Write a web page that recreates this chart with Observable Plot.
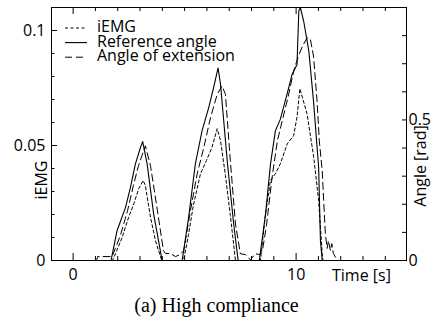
<!DOCTYPE html>
<html><head><meta charset="utf-8">
<script src="https://cdn.jsdelivr.net/npm/d3@7"></script>
<script src="https://cdn.jsdelivr.net/npm/@observablehq/plot@0.6"></script>
<style>
body{margin:0;background:#fff;}
#wrap{position:relative;width:433px;height:321px;font-family:"Open Sans";}
#legend{position:absolute;left:0;top:0;}
#caption{position:absolute;left:0;width:433px;top:295px;text-align:center;font-family:"Liberation Serif";font-size:20px;line-height:20px;color:#000;}
</style></head><body>
<div id="wrap"><div id="chart"></div><svg id="legend" width="260" height="70"></svg><div id="caption">(a) High compliance</div></div>
<script>
// ---- data (time in s) ----
const emgTime  = [0, 1.76, 1.90, 2.20, 2.49, 2.72, 2.94, 3.14, 3.24, 3.47, 3.69, 3.95, 4.0, 4.95, 5.17, 5.39, 5.71, 5.98, 6.23, 6.46, 6.61, 6.83, 7.05, 7.23, 7.28, 8.40, 8.62, 8.85, 9.07, 9.29, 9.60, 9.89, 10.04, 10.17, 10.49, 10.79, 11.01, 11.17, 11.20, 14];
const emgValue = [0, 0, 0.0029, 0.0101, 0.0188, 0.0246, 0.0312, 0.0348, 0.0326, 0.0188, 0.0087, 0.0007, 0, 0, 0.0109, 0.0239, 0.0377, 0.0435, 0.0493, 0.0573, 0.0522, 0.037, 0.0196, 0.0043, 0, 0, 0.0196, 0.0348, 0.0377, 0.042, 0.0507, 0.0543, 0.0623, 0.0747, 0.0638, 0.0449, 0.0261, 0.003, 0, 0];

const refTime  = [0, 1.70, 1.97, 2.35, 2.57, 2.79, 3.02, 3.12, 3.32, 3.61, 3.99, 4.89, 5.18, 5.48, 5.78, 6.08, 6.30, 6.50, 6.61, 6.91, 7.20, 7.40, 8.35, 8.63, 8.85, 9.07, 9.29, 9.57, 9.82, 10.04, 10.12, 10.19, 10.34, 10.57, 10.78, 11.01, 11.09, 11.17, 14];
const refAngle = [0, 0, 0.106, 0.189, 0.26, 0.343, 0.402, 0.423, 0.343, 0.166, 0, 0, 0.154, 0.343, 0.461, 0.544, 0.615, 0.685, 0.627, 0.355, 0.130, 0, 0, 0.166, 0.343, 0.461, 0.502, 0.585, 0.662, 0.697, 0.887, 0.9, 0.851, 0.745, 0.567, 0.331, 0.071, 0, 0];

const extTime  = [0, 1.05, 1.10, 1.75, 2.12, 2.44, 2.70, 2.93, 3.16, 3.24, 3.47, 3.78, 4.05, 4.14, 4.36, 4.59, 4.80, 4.96, 5.26, 5.56, 5.86, 6.16, 6.46, 6.68, 6.83, 7.05, 7.28, 7.50, 7.73, 7.95, 8.17, 8.37, 8.49, 8.67, 8.92, 9.16, 9.43, 9.65, 9.89, 10.10, 10.28, 10.49, 10.64, 10.78, 10.94, 11.04, 11.17, 11.31, 11.39, 11.45, 11.54, 11.60, 11.67, 11.85, 14];
const extAngle = [0, 0, 0.014, 0.014, 0.089, 0.177, 0.266, 0.337, 0.39, 0.408, 0.337, 0.177, 0.035, 0.025, 0.025, 0.014, 0.021, 0.035, 0.177, 0.307, 0.402, 0.508, 0.591, 0.621, 0.591, 0.355, 0.13, 0.024, 0.021, 0.003, 0.024, 0.021, 0.035, 0.124, 0.295, 0.426, 0.514, 0.585, 0.674, 0.727, 0.762, 0.792, 0.787, 0.727, 0.567, 0.426, 0.319, 0.096, 0.043, 0.071, 0.035, 0.06, 0.025, 0, 0];

const seriesNames = ["iEMG", "Reference angle", "Angle of extension"];
const leftMajor = [0, 0.05, 0.1];
const leftMajorLabels = ["0", "0.05", "0.1"];
const leftMinor = [0.01, 0.02, 0.03, 0.04, 0.06, 0.07, 0.08, 0.09];
const rightTicks = [0.1, 0.2, 0.3, 0.4, 0.5, 0.6, 0.7, 0.8];
const rightMajor = [0, 0.5];
const rightMajorLabels = ["0", "0.5"];
const xTicks = [0, 1, 2, 3, 4, 5, 6, 7, 8, 9, 10, 11, 12, 13, 14];
const xMajor = [0, 10];
const xMajorLabels = ["0", "10"];

// ---- layout ----
const W = 433, H = 290, ML = 51, MR = 27, MT = 7, MB = 30;
const xDomain = [-0.97, 14.95];
const yDomain = [0, 0.11];
const angleMax = 0.9;             // right axis top (rad)
const K = yDomain[1] / angleMax;  // rad -> left units
const pxX = (W - ML - MR) / (xDomain[1] - xDomain[0]);
const pxY = (H - MT - MB) / (yDomain[1] - yDomain[0]);

const emg = emgTime.map((t, i) => ({t, v: emgValue[i]}));
const ref = refTime.map((t, i) => ({t, v: refAngle[i] * K}));
const ext = extTime.map((t, i) => ({t, v: extAngle[i] * K}));

const styles = {
  "iEMG": {dash: "3,2.5", width: 1},
  "Reference angle": {dash: null, width: 1.1},
  "Angle of extension": {dash: "7,4", width: 1}
};

const chart = Plot.plot({
  width: W, height: H, marginLeft: ML, marginRight: MR, marginTop: MT, marginBottom: MB,
  x: {domain: xDomain, label: null},
  y: {domain: yDomain, label: null},
  style: {fontFamily: "Open Sans", fontSize: "16px", color: "#000", background: "#fff"},
  marks: [
    Plot.line(ext, {x: "t", y: "v", stroke: "#000", strokeWidth: styles["Angle of extension"].width, strokeDasharray: styles["Angle of extension"].dash, clip: true}),
    Plot.line(emg, {x: "t", y: "v", stroke: "#000", strokeWidth: styles["iEMG"].width, strokeDasharray: styles["iEMG"].dash, clip: true}),
    Plot.line(ref, {x: "t", y: "v", stroke: "#000", strokeWidth: styles["Reference angle"].width, clip: true}),
    Plot.frame({stroke: "#000", strokeWidth: 1}),
    // inward ticks, left
    Plot.ruleY(leftMajor, {y: d => d, x1: xDomain[0], x2: xDomain[0] + 6 / pxX, stroke: "#000"}),
    Plot.ruleY(leftMinor, {y: d => d, x1: xDomain[0], x2: xDomain[0] + 3.5 / pxX, stroke: "#000"}),
    // right
    Plot.ruleY(rightTicks, {y: d => d * K, x1: xDomain[1] - 4 / pxX, x2: xDomain[1], stroke: "#000"}),
    // bottom and top
    Plot.ruleX(xTicks, {x: d => d, y1: yDomain[0], y2: d => yDomain[0] + (xMajor.includes(d) ? 7 : 4) / pxY, stroke: "#000"}),
    Plot.ruleX(xTicks, {x: d => d, y1: d => yDomain[1] - (xMajor.includes(d) ? 7 : 4) / pxY, y2: yDomain[1], stroke: "#000"}),
    // labels
    Plot.axisY({anchor: "left", ticks: leftMajor, tickSize: 0, tickPadding: 6, tickFormat: d => leftMajorLabels[leftMajor.indexOf(d)], label: null}),
    Plot.axisY({anchor: "right", ticks: rightMajor.map(d => d * K), tickSize: 0, tickPadding: 2, tickFormat: (d, i) => rightMajorLabels[i], label: null}),
    Plot.axisX({anchor: "bottom", ticks: xMajor, tickSize: 0, tickPadding: 8, tickFormat: d => xMajorLabels[xMajor.indexOf(d)], label: null}),
    Plot.text(["iEMG"], {text: d => d, frameAnchor: "left", textAnchor: "middle", lineAnchor: "middle", rotate: -90, dx: -10, dy: 46, fill: "#000"}),
    Plot.text(["Angle [rad]"], {text: d => d, frameAnchor: "right", textAnchor: "middle", lineAnchor: "middle", rotate: -90, dx: 14, dy: 32, fill: "#000"}),
    Plot.text(["Time [s]"], {text: d => d, frameAnchor: "bottom", textAnchor: "start", lineAnchor: "middle", dx: 103, dy: 15, fill: "#000"})
  ]
});
document.getElementById("chart").appendChild(chart);

// ---- legend ----
const lg = d3.select("#legend");
seriesNames.forEach((name, i) => {
  const y = 28 + i * 14.6;
  const s = styles[name];
  lg.append("line").attr("x1", 65).attr("x2", 87).attr("y1", y).attr("y2", y)
    .attr("stroke", "#000").attr("stroke-width", s.width)
    .attr("stroke-dasharray", s.dash);
  lg.append("text").attr("x", 97).attr("y", y + 4).attr("font-family", "Open Sans")
    .attr("font-size", 16).attr("fill", "#000").text(name);
});
</script>
</body></html>
